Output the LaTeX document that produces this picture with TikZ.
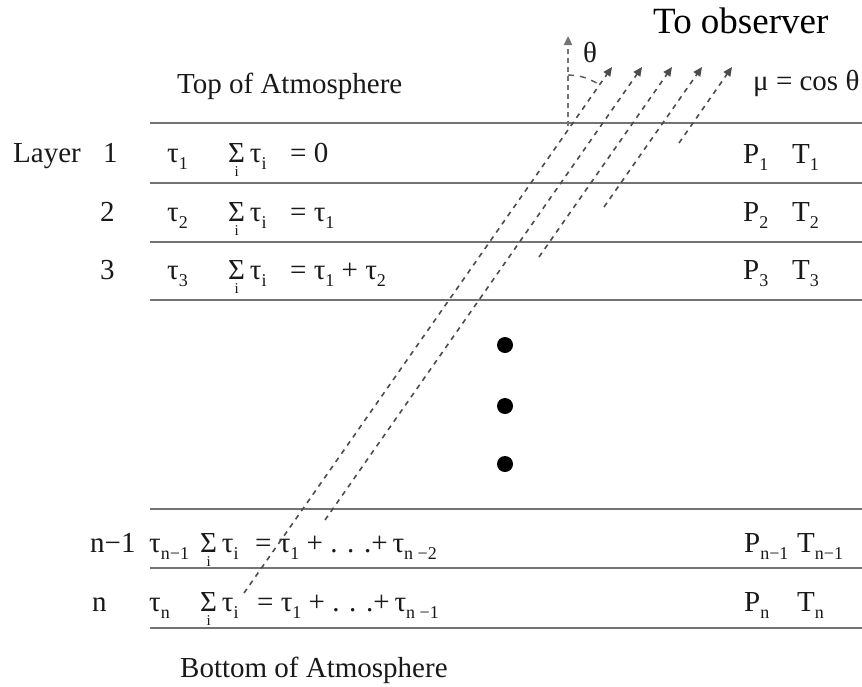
\documentclass[tikz,border=0pt]{standalone}
\usepackage{fontspec}
\usepackage{amsmath}
\setmainfont{Liberation Serif}
\usetikzlibrary{arrows.meta}
\newcommand\sumi{\ensuremath{\mathop{\text{Σ}}\limits_{\text{\fontsize{15}{16}\selectfont i}}}}
\newcommand\tsb[2]{#1\raisebox{-0.27em}{\fontsize{18}{20}\selectfont #2}}
\begin{document}
\begin{tikzpicture}[x=1pt,y=-1pt,
  lbl/.style={anchor=base west, inner sep=0pt, font=\fontsize{29}{34}\selectfont, text=black!90},
  big/.style={anchor=base west, inner sep=0pt, font=\fontsize{37}{44}\selectfont},
  rulel/.style={draw=black!55, line width=1.8pt},
  ray/.style={draw=black!70, line width=1.6pt, dash pattern=on 5pt off 5pt, -{Triangle[length=9pt,width=8pt]}},
  vray/.style={draw=black!55, line width=2.6pt, dash pattern=on 5pt off 4pt, -{Triangle[length=9pt,width=8pt]}},
  dotmark/.style={circle, fill=black, inner sep=0pt, minimum size=16pt}
]
\useasboundingbox[fill=white] (0,0) rectangle (862,686);

% horizontal layer boundaries
\foreach \yy in {123,183,242,300,509,568,628}
  \draw[rulel] (150,\yy) -- (862,\yy);

% headings
\node[lbl] (top) at (177,93) {Top of Atmosphere};
\node[lbl] (bot) at (180,677) {Bottom of Atmosphere};
\node[big] (obs) at (653,33) {To observer};
\node[lbl] (mu) at (753,90) {μ = cos θ};
\node[lbl] (th) at (583,62) {θ};

% layer labels
\node[lbl] (layer) at (13,162) {Layer};
\node[lbl] (l1) at (103,162) {1};
\node[lbl] (l2) at (100,221) {2};
\node[lbl] (l3) at (100,279) {3};
\node[lbl] (ln1) at (90,552) {n−1};
\node[lbl] (ln) at (92,611) {n};

% tau column
\node[lbl] (t1) at (167,162) {\tsb{τ}{1}};
\node[lbl] (t2) at (167,221) {\tsb{τ}{2}};
\node[lbl] (t3) at (167,279) {\tsb{τ}{3}};
\node[lbl] (tn1) at (149,552) {\tsb{τ}{n−1}};
\node[lbl] (tn) at (149,611) {\tsb{τ}{n}};

% sums
\node[lbl] (s1) at (228,162) {\sumi\,\tsb{τ}{i}};
\node[lbl] (s2) at (228,221) {\sumi\,\tsb{τ}{i}};
\node[lbl] (s3) at (228,279) {\sumi\,\tsb{τ}{i}};
\node[lbl] (sn1) at (200,552) {\sumi\,\tsb{τ}{i}};
\node[lbl] (sn) at (200,611) {\sumi\,\tsb{τ}{i}};

% right-hand sides
\node[lbl] (r1) at (290,162) {= 0};
\node[lbl] (r2) at (290,221) {= \tsb{τ}{1}};
\node[lbl] (r3) at (290,279) {= \tsb{τ}{1} + \tsb{τ}{2}};
\node[lbl] (rn1) at (255,552) {= \tsb{τ}{1} + . . .+\,\tsb{τ}{n −2}};
\node[lbl] (rn) at (257,611) {= \tsb{τ}{1} + . . .+\,\tsb{τ}{n −1}};

% P and T
\node[lbl] (p1) at (743,163) {\tsb{P}{1}};
\node[lbl] (T1) at (792,163) {\tsb{T}{1}};
\node[lbl] (p2) at (743,221) {\tsb{P}{2}};
\node[lbl] (T2) at (792,221) {\tsb{T}{2}};
\node[lbl] (p3) at (743,279) {\tsb{P}{3}};
\node[lbl] (T3) at (792,279) {\tsb{T}{3}};
\node[lbl] (pn1) at (744,552) {\tsb{P}{n−1}};
\node[lbl] (Tn1) at (797,552) {\tsb{T}{n−1}};
\node[lbl] (pn) at (744,611) {\tsb{P}{n}};
\node[lbl] (Tn) at (797,611) {\tsb{T}{n}};

% ellipsis dots
\node[dotmark] (d1) at (505,345) {};
\node[dotmark] (d2) at (505,406) {};
\node[dotmark] (d3) at (505,464) {};

% rays toward observer
\coordinate (a0) at (244,593); \coordinate (a1) at (612,67);
\coordinate (b0) at (325,520); \coordinate (b1) at (642,67);
\coordinate (c0) at (539,257); \coordinate (c1) at (672,67);
\coordinate (e0) at (604,207); \coordinate (e1) at (702,67);
\coordinate (f0) at (679,143); \coordinate (f1) at (732,67);
\draw[ray] (a0) -- (a1);
\draw[ray] (b0) -- (b1);
\draw[ray] (c0) -- (c1);
\draw[ray] (e0) -- (e1);
\draw[ray] (f0) -- (f1);

% vertical (zenith) direction
\coordinate (v0) at (568,126); \coordinate (v1) at (568,36);
\draw[vray] (v0) -- (v1);

% angle mark
\draw[black!65, line width=1.4pt, dash pattern=on 6pt off 6pt]
  plot[smooth] coordinates {(568,75) (577.6,75.8) (586.8,78.3) (595.5,82.4) (599.5,84.9)};
\end{tikzpicture}
\end{document}
